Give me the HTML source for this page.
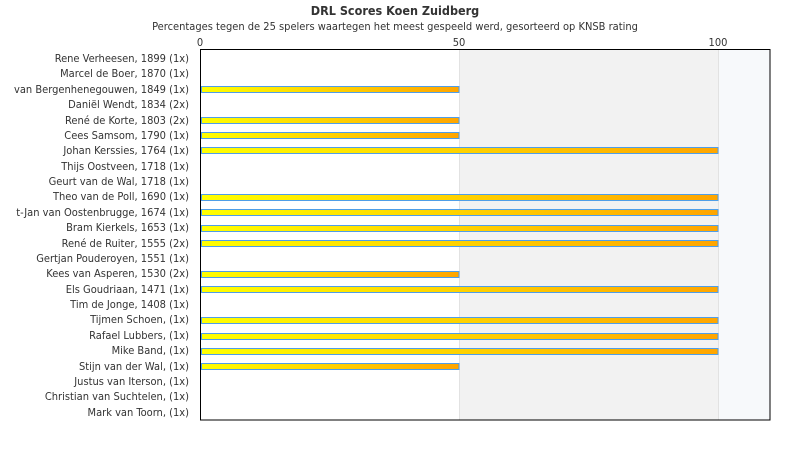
<!DOCTYPE html>
<html><head><meta charset="utf-8"><style>
html,body{margin:0;padding:0;background:#fff;width:790px;height:450px;overflow:hidden}
text{font-family:"DejaVu Sans Condensed","DejaVu Sans","Liberation Sans",sans-serif;font-stretch:condensed;fill:#333}
</style></head><body>
<svg width="790" height="450" xmlns="http://www.w3.org/2000/svg">
<defs><linearGradient id="g50" x1="0" x2="1"><stop offset="0" stop-color="#ffff00"/><stop offset="1" stop-color="#ffa500"/></linearGradient></defs>
<rect x="459" y="50" width="259" height="370" fill="#f2f2f2"/>
<rect x="718" y="50" width="52" height="370" fill="#f7f9fb"/>
<line x1="459.5" y1="50" x2="459.5" y2="420" stroke="#e2e2e2"/>
<line x1="718.5" y1="50" x2="718.5" y2="420" stroke="#e2e2e2"/>
<text x="395" y="15" text-anchor="middle" font-size="12.5" font-weight="bold">DRL Scores Koen Zuidberg</text>
<text x="395" y="30" text-anchor="middle" font-size="11">Percentages tegen de 25 spelers waartegen het meest gespeeld werd, gesorteerd op KNSB rating</text>
<text x="200" y="46" text-anchor="middle" font-size="11">0</text>
<text x="459" y="46" text-anchor="middle" font-size="11">50</text>
<text x="718" y="46" text-anchor="middle" font-size="11">100</text>
<g font-size="11" text-anchor="end">
<text x="189" y="62">Rene Verheesen, 1899 (1x)</text>
<text x="189" y="77">Marcel de Boer, 1870 (1x)</text>
<text x="189" y="93">van Bergenhenegouwen, 1849 (1x)</text>
<text x="189" y="108">Daniël Wendt, 1834 (2x)</text>
<text x="189" y="124">René de Korte, 1803 (2x)</text>
<text x="189" y="139">Cees Samsom, 1790 (1x)</text>
<text x="189" y="154">Johan Kerssies, 1764 (1x)</text>
<text x="189" y="170">Thijs Oostveen, 1718 (1x)</text>
<text x="189" y="185">Geurt van de Wal, 1718 (1x)</text>
<text x="189" y="200">Theo van de Poll, 1690 (1x)</text>
<text x="189" y="216">t-Jan van Oostenbrugge, 1674 (1x)</text>
<text x="189" y="231">Bram Kierkels, 1653 (1x)</text>
<text x="189" y="247">René de Ruiter, 1555 (2x)</text>
<text x="189" y="262">Gertjan Pouderoyen, 1551 (1x)</text>
<text x="189" y="277">Kees van Asperen, 1530 (2x)</text>
<text x="189" y="293">Els Goudriaan, 1471 (1x)</text>
<text x="189" y="308">Tim de Jonge, 1408 (1x)</text>
<text x="189" y="323">Tijmen Schoen,  (1x)</text>
<text x="189" y="339">Rafael Lubbers,  (1x)</text>
<text x="189" y="354">Mike Band,  (1x)</text>
<text x="189" y="370">Stijn van der Wal,  (1x)</text>
<text x="189" y="385">Justus van Iterson,  (1x)</text>
<text x="189" y="400">Christian van Suchtelen,  (1x)</text>
<text x="189" y="416">Mark van Toorn,  (1x)</text>
</g>
<g fill="url(#g50)" stroke="#4f9ee8" stroke-width="1">
<rect x="201.5" y="86.5" width="257.5" height="6"/>
<rect x="201.5" y="117.5" width="257.5" height="6"/>
<rect x="201.5" y="132.5" width="257.5" height="6"/>
<rect x="201.5" y="147.5" width="516.5" height="6"/>
<rect x="201.5" y="194.5" width="516.5" height="6"/>
<rect x="201.5" y="209.5" width="516.5" height="6"/>
<rect x="201.5" y="225.5" width="516.5" height="6"/>
<rect x="201.5" y="240.5" width="516.5" height="6"/>
<rect x="201.5" y="271.5" width="257.5" height="6"/>
<rect x="201.5" y="286.5" width="516.5" height="6"/>
<rect x="201.5" y="317.5" width="516.5" height="6"/>
<rect x="201.5" y="333.5" width="516.5" height="6"/>
<rect x="201.5" y="348.5" width="516.5" height="6"/>
<rect x="201.5" y="363.5" width="257.5" height="6"/>
</g>
<rect x="200.5" y="49.5" width="569.5" height="370.5" fill="none" stroke="#000" stroke-width="1"/>
</svg>
</body></html>
